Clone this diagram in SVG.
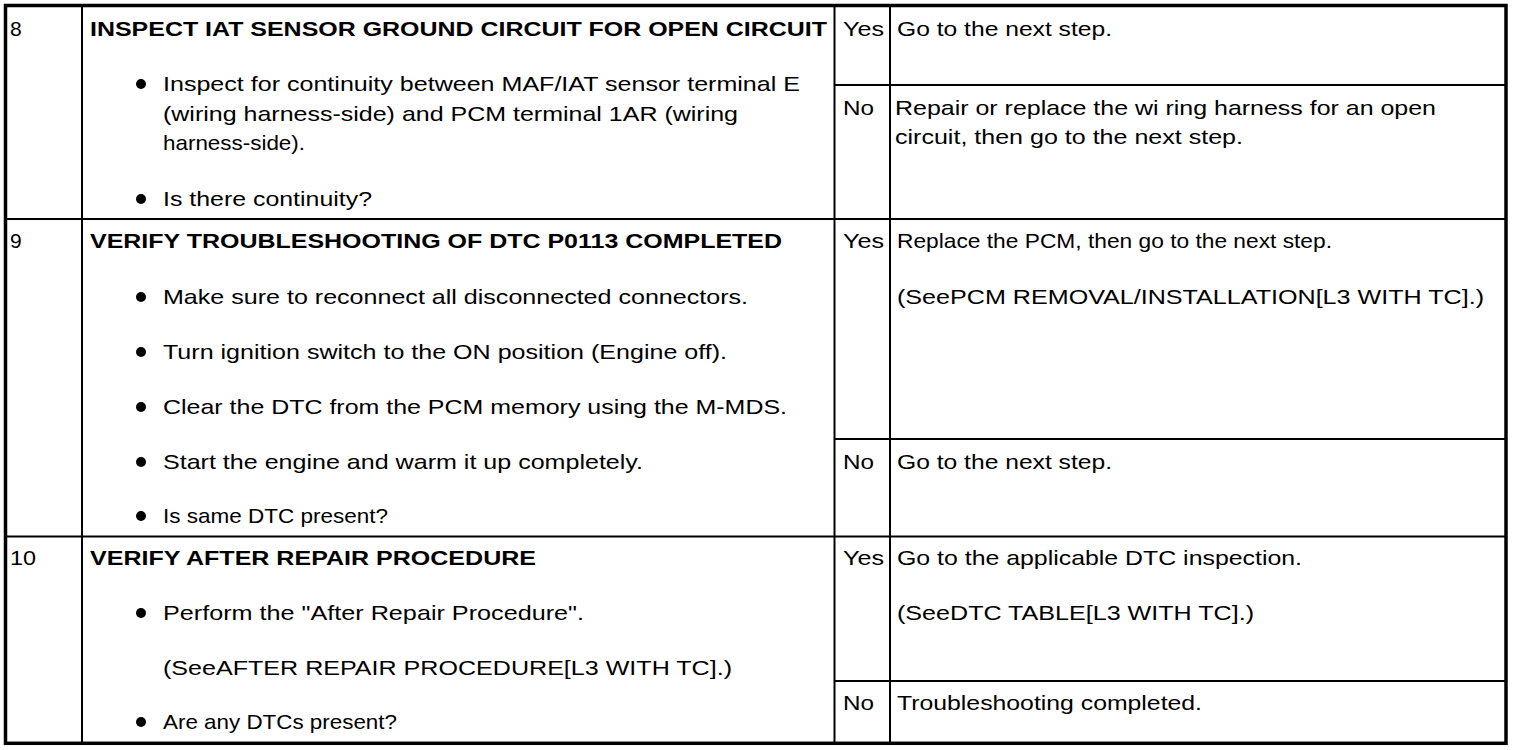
<svg xmlns="http://www.w3.org/2000/svg" width="1520" height="750" viewBox="0 0 1520 750">
<style>
.t{font-family:"Liberation Sans",Arial,Helvetica,sans-serif;font-size:21px;fill:#000}
.b{font-weight:bold}
.ln{stroke:#000;stroke-width:2;fill:none}
.ob{stroke:#000;stroke-width:3.5;fill:none}
.dot{fill:#000}
</style>
<rect x="0" y="0" width="1520" height="750" fill="#fff"/>
<g id="grid">
<line class="ln" x1="82" y1="5" x2="82" y2="743"/>
<line class="ln" x1="834.5" y1="5" x2="834.5" y2="743"/>
<line class="ln" x1="890" y1="5" x2="890" y2="743"/>
<line class="ln" x1="5" y1="219" x2="1506" y2="219"/>
<line class="ln" x1="5" y1="536.5" x2="1506" y2="536.5"/>
<line class="ln" x1="834.5" y1="85" x2="1506" y2="85"/>
<line class="ln" x1="834.5" y1="439" x2="1506" y2="439"/>
<line class="ln" x1="834.5" y1="681" x2="1506" y2="681"/>
<rect class="ob" x="5.5" y="5.5" width="1500.5" height="737.8"/>
</g>
<g id="step8">
<text class="t" x="10" y="36">8</text>
<text class="t b" x="90" y="36" textLength="737" lengthAdjust="spacingAndGlyphs">INSPECT IAT SENSOR GROUND CIRCUIT FOR OPEN CIRCUIT</text>
<circle class="dot" cx="141" cy="84" r="5"/>
<text class="t" x="163" y="91" textLength="637" lengthAdjust="spacingAndGlyphs">Inspect for continuity between MAF/IAT sensor terminal E</text>
<text class="t" x="163" y="120.5" textLength="575" lengthAdjust="spacingAndGlyphs">(wiring harness-side) and PCM terminal 1AR (wiring</text>
<text class="t" x="163" y="150" textLength="142" lengthAdjust="spacingAndGlyphs">harness-side).</text>
<circle class="dot" cx="141" cy="199" r="5"/>
<text class="t" x="163" y="206" textLength="209" lengthAdjust="spacingAndGlyphs">Is there continuity?</text>
<text class="t" x="843" y="36" textLength="41" lengthAdjust="spacingAndGlyphs">Yes</text>
<text class="t" x="897" y="36" textLength="215" lengthAdjust="spacingAndGlyphs">Go to the next step.</text>
<text class="t" x="843" y="115" textLength="31" lengthAdjust="spacingAndGlyphs">No</text>
<text class="t" x="895" y="115" textLength="541" lengthAdjust="spacingAndGlyphs">Repair or replace the wi ring harness for an open</text>
<text class="t" x="895" y="144" textLength="348" lengthAdjust="spacingAndGlyphs">circuit, then go to the next step.</text>
</g>
<g id="step9">
<text class="t" x="10" y="248">9</text>
<text class="t b" x="90" y="248" textLength="692" lengthAdjust="spacingAndGlyphs">VERIFY TROUBLESHOOTING OF DTC P0113 COMPLETED</text>
<circle class="dot" cx="141" cy="297" r="5"/>
<text class="t" x="163" y="304" textLength="585" lengthAdjust="spacingAndGlyphs">Make sure to reconnect all disconnected connectors.</text>
<circle class="dot" cx="141" cy="352" r="5"/>
<text class="t" x="163" y="359" textLength="564" lengthAdjust="spacingAndGlyphs">Turn ignition switch to the ON position (Engine off).</text>
<circle class="dot" cx="141" cy="407" r="5"/>
<text class="t" x="163" y="414" textLength="624" lengthAdjust="spacingAndGlyphs">Clear the DTC from the PCM memory using the M-MDS.</text>
<circle class="dot" cx="141" cy="462" r="5"/>
<text class="t" x="163" y="469" textLength="480" lengthAdjust="spacingAndGlyphs">Start the engine and warm it up completely.</text>
<circle class="dot" cx="141" cy="516" r="5"/>
<text class="t" x="163" y="523" textLength="225" lengthAdjust="spacingAndGlyphs">Is same DTC present?</text>
<text class="t" x="843" y="248" textLength="41" lengthAdjust="spacingAndGlyphs">Yes</text>
<text class="t" x="897" y="248" textLength="435" lengthAdjust="spacingAndGlyphs">Replace the PCM, then go to the next step.</text>
<text class="t" x="897" y="304" textLength="587" lengthAdjust="spacingAndGlyphs">(SeePCM REMOVAL/INSTALLATION[L3 WITH TC].)</text>
<text class="t" x="843" y="469" textLength="31" lengthAdjust="spacingAndGlyphs">No</text>
<text class="t" x="897" y="469" textLength="215" lengthAdjust="spacingAndGlyphs">Go to the next step.</text>
</g>
<g id="step10">
<text class="t" x="10" y="565" textLength="26" lengthAdjust="spacingAndGlyphs">10</text>
<text class="t b" x="90" y="565" textLength="446" lengthAdjust="spacingAndGlyphs">VERIFY AFTER REPAIR PROCEDURE</text>
<circle class="dot" cx="141" cy="613" r="5"/>
<text class="t" x="163" y="620" textLength="421" lengthAdjust="spacingAndGlyphs">Perform the "After Repair Procedure".</text>
<text class="t" x="163" y="675" textLength="569" lengthAdjust="spacingAndGlyphs">(SeeAFTER REPAIR PROCEDURE[L3 WITH TC].)</text>
<circle class="dot" cx="141" cy="722" r="5"/>
<text class="t" x="163" y="729" textLength="234" lengthAdjust="spacingAndGlyphs">Are any DTCs present?</text>
<text class="t" x="843" y="565" textLength="41" lengthAdjust="spacingAndGlyphs">Yes</text>
<text class="t" x="897" y="565" textLength="405" lengthAdjust="spacingAndGlyphs">Go to the applicable DTC inspection.</text>
<text class="t" x="897" y="620" textLength="357" lengthAdjust="spacingAndGlyphs">(SeeDTC TABLE[L3 WITH TC].)</text>
<text class="t" x="843" y="710" textLength="31" lengthAdjust="spacingAndGlyphs">No</text>
<text class="t" x="897" y="710" textLength="305" lengthAdjust="spacingAndGlyphs">Troubleshooting completed.</text>
</g>
</svg>
